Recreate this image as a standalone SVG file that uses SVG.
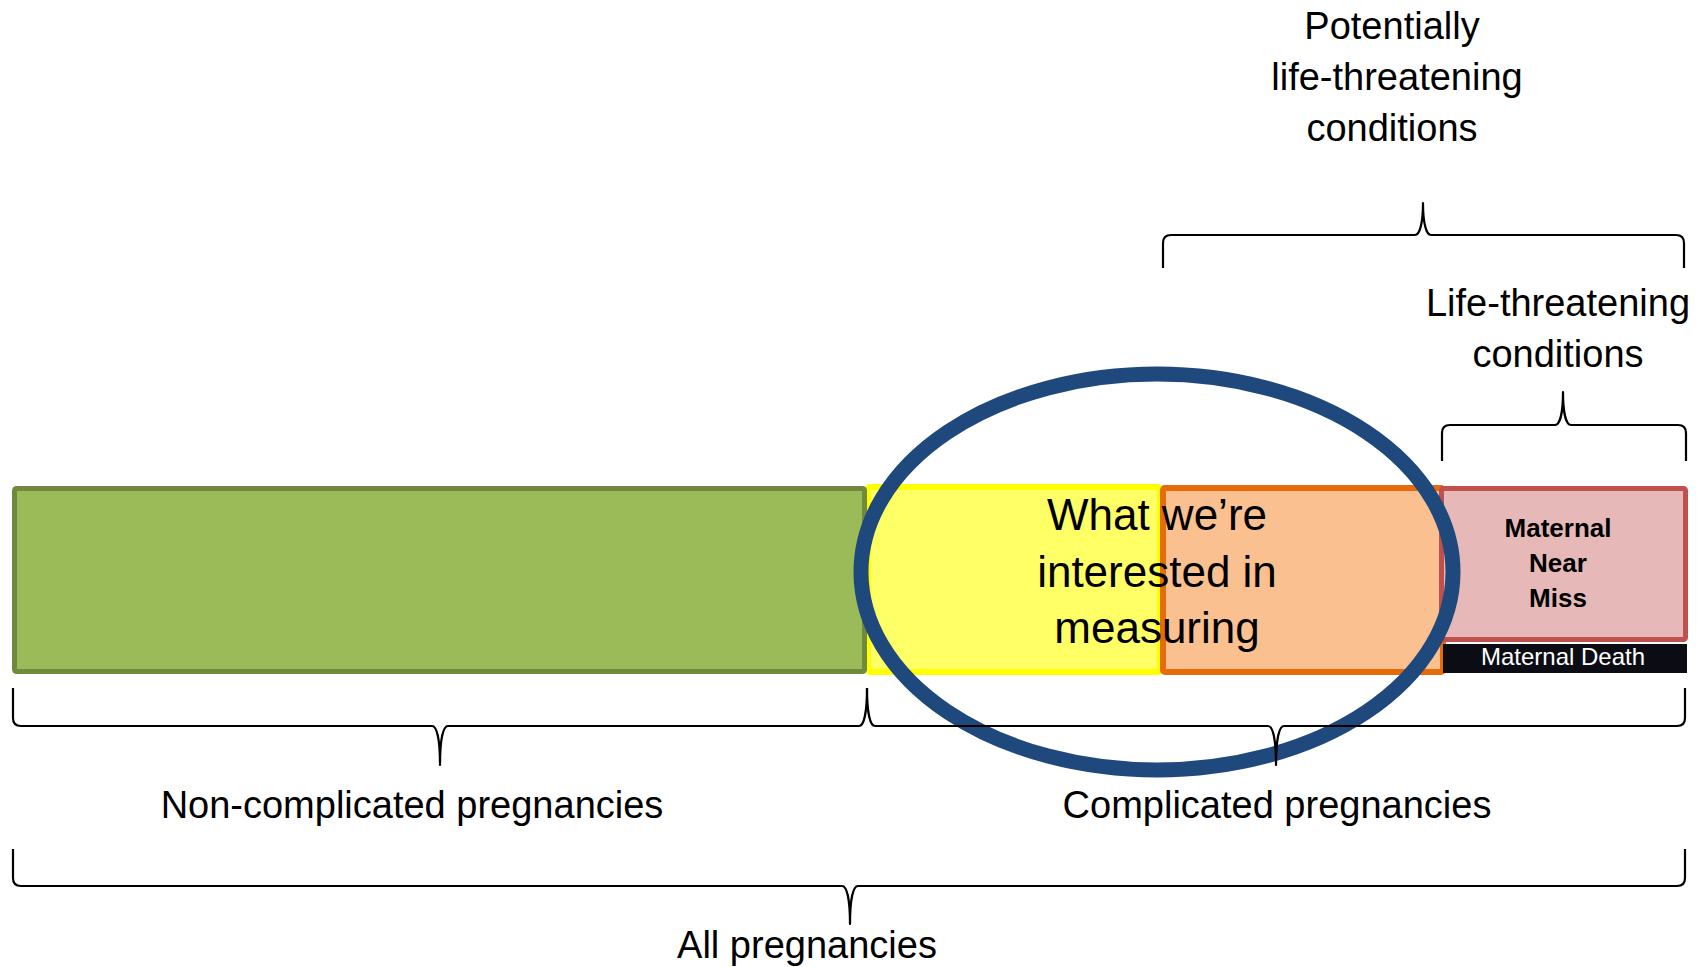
<svg xmlns="http://www.w3.org/2000/svg" width="1706" height="967" viewBox="0 0 1706 967">
<style>
.lbl{font-family:"Liberation Sans",Arial,sans-serif;font-size:38px;fill:#000;text-anchor:middle}
.big{font-family:"Liberation Sans",Arial,sans-serif;font-size:44px;fill:#000;text-anchor:middle}
.mnm{font-family:"Liberation Sans",Arial,sans-serif;font-size:26px;font-weight:bold;fill:#000;text-anchor:middle}
.md{font-family:"Liberation Sans",Arial,sans-serif;font-size:24px;fill:#fff;text-anchor:middle}
.brace{fill:none;stroke:#000;stroke-width:2.2;stroke-linejoin:round}
</style>
<rect width="1706" height="967" fill="#fff"/>
<g id="yellow"><rect x="868" y="487" width="292" height="185" rx="2" fill="#FFFF66" stroke="#FFFF00" stroke-width="6"/></g>
<g id="green"><rect x="14.5" y="488.5" width="850" height="183" rx="2" fill="#9BBB59" stroke="#71893F" stroke-width="5"/></g>
<g id="orange"><rect x="1163" y="488" width="280" height="184" rx="2" fill="#FAC090" stroke="#E46C0A" stroke-width="6"/></g>
<g id="near-miss">
<rect x="1441.5" y="488.5" width="244" height="151" rx="2" fill="#E6B9B8" stroke="#C0504D" stroke-width="5"/>
<text class="mnm" x="1558" y="537">Maternal</text>
<text class="mnm" x="1558" y="572">Near</text>
<text class="mnm" x="1558" y="607">Miss</text>
</g>
<g id="death">
<rect x="1443" y="644" width="244" height="29" fill="#0C0C14"/>
<text class="md" x="1563" y="665">Maternal Death</text>
</g>
<g id="interest-text">
<text class="big" x="1157" y="530">What we’re</text>
<text class="big" x="1157" y="587">interested in</text>
<text class="big" x="1157" y="643">measuring</text>
</g>
<g id="ellipse"><ellipse cx="1157" cy="572" rx="296" ry="198" fill="none" stroke="#1F497D" stroke-width="15"/></g>
<g id="connectors">
<path class="brace" d="M1163 268 L1163 243 Q1163 235 1171 235 L1415 235 C1420 235 1423 222 1423 203 C1423 222 1426 235 1431 235 L1676 235 Q1684 235 1684 243 L1684 268"/>
<path class="brace" d="M1442 461 L1442 433 Q1442 425 1450 425 L1555 425 C1560 425 1563 412 1563 392 C1563 412 1566 425 1571 425 L1678 425 Q1686 425 1686 433 L1686 461"/>
<path class="brace" d="M13 688 L13 718 Q13 726 21 726 L432 726 C437 726 440 740 440 765 C440 740 443 726 448 726 L859 726 C864 726 867 712 867 688"/>
<path class="brace" d="M867 688 C867 712 870 726 875 726 L1268 726 C1273 726 1276 740 1276 765 C1276 740 1279 726 1284 726 L1677 726 Q1685 726 1685 718 L1685 688"/>
<path class="brace" d="M13 849 L13 878 Q13 886 21 886 L842 886 C847 886 850 900 850 924 C850 900 853 886 858 886 L1677 886 Q1685 886 1685 878 L1685 849"/>
</g>
<g id="labels">
<text class="lbl" x="1392" y="39">Potentially</text>
<text class="lbl" x="1397" y="90">life-threatening</text>
<text class="lbl" x="1392" y="141">conditions</text>
<text class="lbl" x="1558" y="316">Life-threatening</text>
<text class="lbl" x="1558" y="367">conditions</text>
<text class="lbl" x="412" y="818">Non-complicated pregnancies</text>
<text class="lbl" x="1277" y="818">Complicated pregnancies</text>
<text class="lbl" x="807" y="958">All pregnancies</text>
</g>
</svg>
